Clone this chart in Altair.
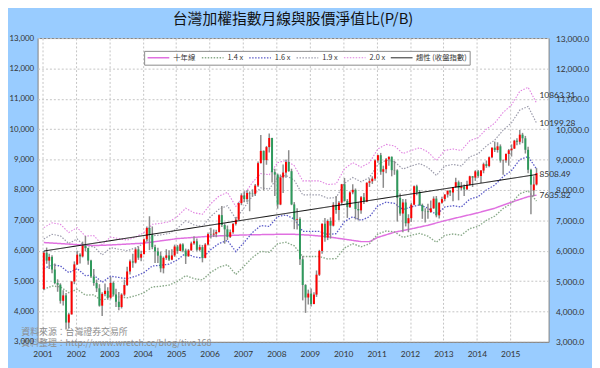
import altair as alt
import pandas as pd

# ---------------- data ----------------
OPEN = [
    4743, 5936, 5675, 5798, 5382, 4935, 4883, 4353, 4531, 3637, 3904, 4987,
    5551, 5872, 5813, 6168, 6087, 5675, 5154, 4940, 4764, 4192, 4580, 4680,
    4453, 4942, 4556, 4321, 4148, 4556, 4872, 5318, 5651, 5611, 6045, 5772,
    5891, 6375, 6751, 6522, 6118, 5978, 5839, 5421, 5766, 5846, 5706, 5845,
    6140, 5994, 6208, 6006, 5818, 6012, 6242, 6312, 6033, 6119, 5764, 6204,
    6548, 6532, 6561, 6614, 7172, 6847, 6704, 6455, 6611, 6884, 7021, 7567,
    7824, 7700, 7902, 7884, 7875, 8145, 8883, 9287, 8982, 9411, 9711, 8586,
    8506, 7521, 8413, 8573, 8920, 8619, 7524, 7024, 7046, 5719, 4871, 4461,
    4591, 4248, 4557, 5211, 5993, 6890, 6432, 6978, 6826, 7509, 7340, 7582,
    8188, 7640, 7436, 7920, 8004, 7374, 7329, 7761, 7616, 8238, 8287, 8373,
    8973, 9145, 8600, 8683, 9008, 9094, 8652, 8644, 7741, 7225, 7588, 6904,
    7072, 7517, 8122, 7933, 7502, 7302, 7296, 7271, 7397, 7715, 7166, 7580,
    7700, 7850, 7977, 7919, 8094, 8255, 8062, 8108, 8022, 8174, 8450, 8407,
    8612, 8463, 8640, 8849, 8791, 9076, 9393, 9316, 9436, 8967, 8975, 9187,
    9307, 9362, 9622, 9586, 9820, 9701, 9323, 8665, 7990, 8181,
]
CLOSE = [
    5936, 5675, 5798, 5382, 4935, 4883, 4353, 4531, 3637, 3904, 4987, 5551,
    5872, 5813, 6168, 6087, 5675, 5154, 4940, 4764, 4192, 4580, 4680, 4453,
    4942, 4556, 4321, 4148, 4556, 4872, 5318, 5651, 5611, 6045, 5772, 5891,
    6375, 6751, 6522, 6118, 5978, 5839, 5421, 5766, 5846, 5706, 5845, 6140,
    5994, 6208, 6006, 5818, 6012, 6242, 6312, 6033, 6119, 5764, 6204, 6548,
    6532, 6561, 6614, 7172, 6847, 6704, 6455, 6611, 6884, 7021, 7567, 7824,
    7700, 7902, 7884, 7875, 8145, 8883, 9287, 8982, 9411, 9711, 8586, 8506,
    7521, 8413, 8573, 8920, 8619, 7524, 7024, 7046, 5719, 4871, 4461, 4591,
    4248, 4557, 5211, 5993, 6890, 6432, 6978, 6826, 7509, 7340, 7582, 8188,
    7640, 7436, 7920, 8004, 7374, 7329, 7761, 7616, 8238, 8287, 8373, 8973,
    9145, 8600, 8683, 9008, 9094, 8652, 8644, 7741, 7225, 7588, 6904, 7072,
    7517, 8122, 7933, 7502, 7302, 7296, 7271, 7397, 7715, 7166, 7580, 7700,
    7850, 7977, 7919, 8094, 8255, 8062, 8108, 8022, 8174, 8450, 8407, 8612,
    8463, 8640, 8849, 8791, 9076, 9393, 9316, 9436, 8967, 8975, 9187, 9307,
    9362, 9622, 9586, 9820, 9701, 9323, 8665, 8175, 8181, 8554,
]
HIGH = [
    5990, 6104, 5900, 5850, 5580, 5060, 4930, 4700, 4610, 3960, 5000, 5650,
    6000, 5920, 6300, 6484, 6100, 5700, 5400, 5050, 4900, 4630, 4920, 4800,
    5141, 4990, 4750, 4640, 4600, 5050, 5470, 5710, 5900, 6100, 6140, 6000,
    6400, 6800, 7135, 6800, 6200, 6100, 5970, 5810, 6050, 6020, 6050, 6200,
    6190, 6240, 6250, 6070, 6060, 6300, 6480, 6400, 6200, 6190, 6250, 6600,
    6760, 6700, 6690, 7200, 7474, 6900, 6830, 6700, 6910, 7100, 7600, 7890,
    7960, 8000, 7950, 8020, 8200, 8940, 9807, 9300, 9450, 9859, 9720, 8700,
    8540, 8510, 8840, 9000, 9309, 8700, 7600, 7400, 7100, 5830, 4900, 4720,
    4760, 4630, 5350, 6030, 6900, 7080, 7030, 7100, 7600, 7800, 7640, 8200,
    8395, 7700, 7960, 8190, 8050, 7600, 7800, 7900, 8250, 8380, 8450, 9000,
    9160, 9220, 8800, 9050, 9100, 9100, 8960, 8680, 7880, 7700, 7700, 7200,
    7580, 8150, 8170, 8000, 7550, 7400, 7550, 7650, 7790, 7800, 7600, 7780,
    7860, 7980, 8000, 8100, 8400, 8310, 8260, 8180, 8300, 8470, 8460, 8650,
    8660, 8660, 8900, 8970, 9100, 9400, 9593, 9570, 9500, 9000, 9200, 9350,
    9500, 9650, 9700, 9974, 9880, 9780, 9420, 8700, 8450, 8720,
]
LOW = [
    4700, 5570, 5400, 5260, 4900, 4650, 4260, 4200, 3411, 3446, 3900, 4900,
    5530, 5580, 5780, 5980, 5540, 5100, 4850, 4640, 4160, 3850, 4500, 4390,
    4400, 4500, 4150, 4044, 4100, 4500, 4840, 5220, 5440, 5580, 5700, 5650,
    5880, 6300, 6020, 6050, 5600, 5600, 5290, 5255, 5700, 5660, 5690, 5800,
    5900, 5990, 5950, 5565, 5800, 6000, 6200, 5980, 5980, 5618, 5750, 6170,
    6400, 6450, 6440, 6600, 6780, 6232, 6350, 6420, 6560, 6830, 7010, 7500,
    7600, 7600, 7300, 7780, 7800, 8100, 8870, 7987, 8830, 9230, 8250, 7800,
    7384, 7500, 7900, 8400, 8600, 7500, 6710, 6700, 5530, 4366, 3955, 4230,
    4164, 4240, 4480, 5170, 5900, 6300, 6350, 6400, 6800, 7220, 7000, 7500,
    7620, 7080, 7410, 7860, 7030, 7000, 7220, 7540, 7600, 8100, 8200, 8300,
    8900, 8500, 8070, 8550, 8800, 8450, 8500, 6960, 7150, 6610, 6800, 6610,
    6950, 7500, 7830, 7480, 7050, 6930, 7050, 7250, 7380, 7100, 7060, 7550,
    7630, 7750, 7800, 7630, 8070, 7660, 7990, 7800, 7990, 8150, 8100, 8300,
    8400, 8230, 8550, 8730, 8750, 9040, 9250, 9230, 8900, 8501, 8900, 8800,
    9100, 9350, 9470, 9500, 9540, 9200, 8550, 7203, 7800, 8150,
]

# P/B bands, one value per quarter (Jan/Apr/Jul/Oct) from 2001-01 to 2015-10
B20 = [6760, 6920, 6870, 6600, 6760, 6480, 6500, 6200, 6450, 6400, 6350, 6450,
       6600, 6870, 6900, 6950, 7130, 7400, 7250, 7200, 7550, 7800, 7920, 7460,
       7850, 8250, 8540, 8500, 8900, 8970, 8800, 8300, 8300, 8300, 8180, 8200,
       8700, 8900, 8750, 8900, 9350, 9500, 9450, 9200, 9300, 9390, 9250, 8970,
       9300, 9350, 9300, 9620, 9720, 10000, 10200, 10550, 10800, 11250, 11380, 10863.31]
B19 = [6390, 6540, 6490, 6240, 6390, 6120, 6140, 5860, 6100, 6050, 6000, 6100,
       6240, 6490, 6520, 6570, 6740, 6990, 6850, 6800, 7130, 7370, 7480, 7050,
       7420, 7800, 8070, 8030, 8410, 8480, 8320, 7840, 7840, 7840, 7730, 7750,
       8220, 8410, 8270, 8410, 8840, 8980, 8930, 8690, 8790, 8870, 8740, 8480,
       8790, 8840, 8790, 9090, 9190, 9450, 9640, 9970, 10210, 10630, 10750, 10199.28]
B16 = [5410, 5540, 5500, 5280, 5410, 5180, 5200, 4960, 5160, 5120, 5080, 5160,
       5280, 5500, 5520, 5560, 5700, 5920, 5800, 5760, 6040, 6240, 6340, 5970,
       6280, 6600, 6830, 6800, 7120, 7180, 7040, 6640, 6640, 6640, 6540, 6560,
       6960, 7120, 7000, 7120, 7480, 7600, 7560, 7360, 7440, 7510, 7400, 7180,
       7440, 7480, 7440, 7700, 7780, 8000, 8160, 8440, 8640, 9000, 9100, 8690]
B14 = [4730, 4840, 4810, 4620, 4730, 4540, 4550, 4340, 4520, 4480, 4450, 4520,
       4620, 4810, 4830, 4870, 4990, 5180, 5080, 5040, 5290, 5460, 5540, 5220,
       5500, 5780, 5980, 5950, 6230, 6280, 6160, 5810, 5810, 5810, 5730, 5740,
       6090, 6230, 6130, 6230, 6550, 6650, 6620, 6440, 6510, 6570, 6480, 6280,
       6510, 6550, 6510, 6730, 6800, 7000, 7140, 7390, 7560, 7880, 7970, 7636]

# ten-year moving average, read at these month numbers (0 = 2001-01)
MA_MONTH = [0, 12, 18, 24, 36, 48, 60, 72, 84, 90, 96, 102, 108, 114, 117, 120,
            126, 132, 138, 144, 150, 156, 162, 168, 174, 177]
MA_VAL = [6270, 6200, 6170, 6190, 6250, 6400, 6480, 6520, 6540, 6540, 6510, 6460,
          6380, 6300, 6300, 6440, 6610, 6720, 6840, 6990, 7120, 7250, 7400, 7600,
          7780, 7830]

TREND_MONTH = [0, 177]
TREND_VAL = [5990, 8508.49]

SERIES = ["十年線", "1.4 x", "1.6 x", "1.9 x", "2.0 x", "趨性 (收盤指數)"]
END_LABELS = ["10863.31", "10199.28", "8508.49", "7635.82"]
TITLE = "台灣加權指數月線與股價淨值比(P/B)"
SOURCE = ["資料來源：台灣證券交易所", "資料整理：http://www.wretch.cc/blog/tivo168"]
Y_TICKS = list(range(3000, 13001, 1000))
YEARS = list(range(2001, 2016))

# ---------------- tables ----------------
months = pd.date_range("2001-01-01", periods=len(CLOSE), freq="MS") + pd.Timedelta(days=14)
candles = pd.DataFrame({"date": months, "open": OPEN, "high": HIGH,
                        "low": LOW, "close": CLOSE})
qdates = months[::3]
parts = [pd.DataFrame({"date": months[MA_MONTH], "value": MA_VAL, "series": SERIES[0]})]
for name, vals in zip(SERIES[1:5], [B14, B16, B19, B20]):
    parts.append(pd.DataFrame({"date": qdates, "value": vals, "series": name}))
band_df = pd.concat(parts, ignore_index=True)
trend_df = pd.DataFrame({"date": months[TREND_MONTH], "value": TREND_VAL,
                         "series": SERIES[5]})
last = months[-1]
lab_top = pd.DataFrame({"date": [last], "value": [B20[-1]], "label": [END_LABELS[0]]})
lab_rest = pd.DataFrame({"date": [last] * 3,
                         "value": [B19[-1], TREND_VAL[-1], MA_VAL[-1]],
                         "label": END_LABELS[1:]})

# ---------------- scales / axes ----------------
xscale = alt.Scale(domain=[alt.DateTime(year=2001, month=1, date=1),
                           alt.DateTime(year=2016, month=1, date=1)])
yscale = alt.Scale(domain=[3000, 13000], nice=False, zero=False)

GRID = "#c4c4c4"
NUMFONT = "Lato"
CJK = "Noto Sans CJK TC"

xaxis = alt.Axis(format="%Y",
                 values=[alt.DateTime(year=y, month=1, date=1) for y in YEARS],
                 grid=True, gridColor=GRID, gridDash=[2, 2], gridWidth=1,
                 ticks=False, domainColor="#8a8a8a", labelFlush=False,
                 labelFont=NUMFONT, labelFontSize=8.5, labelColor="#333333",
                 labelPadding=8,
                 title=SOURCE, titleX=-17, titleY=-14, titleAlign="left",
                 titleBaseline="top", titleFont=CJK, titleFontSize=9,
                 titleFontWeight="normal", titleColor="#8c8c8c", titleLineHeight=11)
yaxis_left = alt.Axis(values=Y_TICKS, format=",.0f", grid=True, gridColor=GRID,
                      gridDash=[2, 2], ticks=False, domain=False, labelFlush=False,
                      labelFont=NUMFONT, labelFontSize=8, labelColor="#333333",
                      labelPadding=4, title="")
yaxis_right = alt.Axis(values=Y_TICKS, format=",.1f", orient="right", grid=False,
                       ticks=False, domain=False, labelFlush=False,
                       labelFont=NUMFONT, labelFontSize=8.5, labelColor="#333333",
                       labelPadding=7, title="")

X = alt.X("date:T", scale=xscale, axis=xaxis)


def Y(field):
    return alt.Y(field, scale=yscale, axis=yaxis_left)


cscale = alt.Scale(domain=SERIES,
                   range=["#e070e0", "#8aaa8a", "#5a5ac8", "#9c9cac", "#e080e0", "#000000"])
dscale = alt.Scale(domain=SERIES,
                   range=[[1, 0], [1.5, 1.5], [1.5, 1.5], [1.5, 1.5], [1.5, 1.5], [1, 0]])
wscale = alt.Scale(domain=SERIES, range=[1.5, 1, 1, 1, 1, 1.6])
leg = alt.Legend(orient="none", legendX=108, legendY=13, direction="horizontal",
                 symbolType="stroke", symbolSize=484, clipHeight=9,
                 labelFont=CJK, labelFontSize=7.5,
                 labelColor="#333333", fillColor="white", strokeColor="#8a8a8a",
                 padding=2.5, columnPadding=5, labelOffset=3)


def line_enc(ch):
    return ch.encode(
        x=X,
        y=Y("value:Q"),
        color=alt.Color("series:N", scale=cscale, legend=leg, title=None),
        strokeDash=alt.StrokeDash("series:N", scale=dscale, legend=leg, title=None),
        strokeWidth=alt.StrokeWidth("series:N", scale=wscale, legend=leg, title=None),
    )


bands = line_enc(alt.Chart(band_df).mark_line())
trend = line_enc(alt.Chart(trend_df).mark_line())

wicks = alt.Chart(candles).mark_rule(color="#8c8c8c", strokeWidth=1.5).encode(
    x=X, y=Y("low:Q"), y2="high:Q",
)
bodies = alt.Chart(candles).mark_bar(size=2).encode(
    x=X, y=Y("open:Q"), y2="close:Q",
    color=alt.condition("datum.close >= datum.open", alt.value("#ff0000"),
                        alt.value("#2e9a5c")),
)


def labels(df, dy):
    return alt.Chart(df).mark_text(align="left", baseline="middle", dx=3, dy=dy,
                                   font=NUMFONT, fontSize=8.5, color="#333333").encode(
        x=X, y=Y("value:Q"), text="label:N",
    )


right = alt.Chart(candles).mark_point(opacity=0).encode(
    x=X,
    y=alt.Y("close:Q", scale=yscale, axis=yaxis_right),
)

inner = alt.layer(bands, wicks, bodies, trend, labels(lab_top, -8), labels(lab_rest, 0))

chart = alt.layer(inner, right).resolve_scale(y="independent").properties(
    width=518, height=308,
    title=alt.TitleParams(TITLE, font=CJK, fontSize=15, fontWeight="normal",
                          color="#111111", anchor="middle", offset=7),
    padding={"left": 30, "top": 28, "right": 44, "bottom": 24},
    autosize=alt.AutoSizeParams(type="none"),
    background="#99CCFF",
).configure_view(stroke="#808080", strokeWidth=1, fill="white")

chart.save("out.html", embed_options={"renderer": "svg", "actions": False})
